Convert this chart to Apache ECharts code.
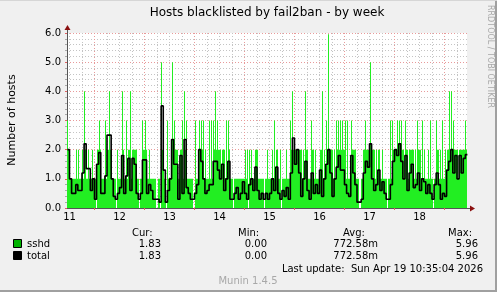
<!DOCTYPE html>
<html><head><meta charset="utf-8">
<script src="https://cdn.jsdelivr.net/npm/echarts@6/dist/echarts.min.js"></script>
<style>html,body{margin:0;padding:0;background:#f0f0f0}#c{width:497px;height:292px}</style>
</head><body><div id="c"></div>
<script>
const chartTitle = 'Hosts blacklisted by fail2ban - by week';
const yAxisName = 'Number of hosts';
const dayLabels = [11, 12, 13, 14, 15, 16, 17, 18];
const startDay = 10 + 23 / 24;   // first hourly sample (day 10, 23:00)
const stepDays = 1 / 24;          // one sample per hour

// sshd: filled level per hour (second half-hour)
const sshdBase = [
 2,1,1,1,1,1,1,1,2,1, 1,1,1,0,2,2,1,1,1,2, 2,1,1,0,1,1,2,1,1,2, 1,2,2,1,0,1,2,2,1,1,
 1,1,0,1,0,2,1,0,1,1, 2,2,2,1,2,1,2,1,1,1, 0,1,1,2,2,1,1,1,1,1, 2,2,2,1,2,1,1,2,1,0,
 1,1,1,1,1,1,0,1,1,1, 2,1,1,1,0,1,1,1,1,1, 2,1,0,1,1,1,1,2,2,2, 2,2,1,1,2,1,1,2,1,1,
 1,2,1,1,2,2,2,1,1,2, 2,2,2,1,1,1,2,2,1,1, 0,1,2,2,2,2,2,1,1,2, 1,1,1,0,1,1,2,2,2,2,
 2,1,2,1,2,2,1,1,2,1, 1,1,1,1,1,0,1,2,1,1, 1,1,2,2,2,2,2,1,2,2, 2,2
];
// sshd: peak per hour (first half-hour)
const sshdPeak = [
 3,1,1,1,2,2,1,2,4,1, 2,1,2,1,2,3,1,1,3,2, 4,2,1,1,2,1,4,1,3,2, 4,2,2,2,1,1,3,3,1,2,
 1,1,1,0,1,5,2,1,3,1, 5,3,2,1,2,3,4,3,1,1, 1,3,1,3,3,3,2,1,3,3, 3,4,3,2,2,2,3,3,1,1,
 1,1,1,1,1,2,2,2,2,1, 2,2,1,1,1,1,2,1,2,3, 2,1,2,1,1,2,1,3,4,2, 2,2,2,2,4,2,1,3,2,2,
 1,2,4,2,3,5.96,2,2,2,3, 3,3,3,3,3,1,3,2,2,1, 0,1,2,3,2,5,2,2,2,2, 1,2,1,1,1,3,3,2,3,3,
 3,2,3,2,2,2,2,2,3,2, 3,2,1,2,3,1,1,3,2,2, 3,2,2,4,4,3,2,2,2,2, 2,3
];
// total: hourly values
const total = [
 2.0,1.0,0.5,0.5,0.8,0.6,0.6,1.2,2.2,1.35, 1.35,0.6,1.0,0.3,1.5,1.9,0.5,0.5,1.1,2.5,
 2.5,1.0,0.4,0.3,0.5,0.7,1.8,0.5,1.1,1.7, 0.6,1.7,1.5,0.5,0.3,0.5,1.65,1.65,0.5,0.8,
 0.6,0.3,0.3,0.3,0.2,3.5,1.3,0.2,0.6,1.0, 2.35,1.5,1.5,0.3,1.8,0.5,2.35,0.7,0.5,0.3,
 0.3,0.5,0.8,2.0,1.6,1.0,0.5,0.6,0.8,0.8, 1.6,1.6,1.3,1.0,1.5,0.6,1.0,1.6,0.3,0.3,
 0.5,0.7,0.3,0.5,0.9,0.5,0.3,0.8,1.0,0.6, 1.4,0.6,0.3,0.5,0.3,0.5,0.3,0.5,1.0,0.6,
 1.4,0.5,0.3,0.6,0.4,0.7,0.3,1.2,2.4,1.5, 2.0,1.2,0.4,1.0,1.6,0.6,0.3,1.2,0.5,0.8,
 0.5,1.3,0.4,1.0,1.5,2.0,1.2,0.4,1.0,1.4, 1.8,1.3,1.3,0.8,0.5,0.4,1.8,1.2,0.8,0.2,
 0.2,0.3,1.2,1.6,1.4,2.2,1.0,0.6,0.8,1.3, 0.6,0.9,0.5,0.3,0.3,0.8,1.6,2.0,1.8,2.2,
 1.6,1.0,1.8,0.6,1.2,1.5,0.7,0.8,1.2,0.6, 1.0,0.9,0.5,0.8,0.5,0.3,0.8,1.2,0.8,0.3,
 0.5,0.4,1.3,1.6,2.0,1.2,1.8,1.0,1.8,1.2, 1.7,1.83
];

const legendNames = ['sshd', 'total'];
const legendColors = ['#00b400', '#000000'];
const statHeads = ['Cur:', 'Min:', 'Avg:', 'Max:'];
const curVals = ['1.83', '1.83'];
const minVals = ['0.00', '0.00'];
const avgVals = ['772.58m', '772.58m'];
const maxVals = ['5.96', '5.96'];
const lastUpdate = 'Last update:  Sun Apr 19 10:35:04 2026';
const footer = 'Munin 1.4.5';
const watermark = 'RRDTOOL / TOBI OETIKER';

const GREEN = '#22ee22';
const FONT = '"DejaVu Sans", sans-serif';

const times = total.map((_, i) => startDay + i * stepDays);
const endT = startDay + total.length * stepDays;
// green columns: [start, end, value]; peak in first half-hour, fill level in second
const greenData = [];
times.forEach((t, i) => {
  greenData.push([t, t + stepDays / 2, sshdPeak[i]]);
  greenData.push([t + stepDays / 2, t + stepDays, sshdBase[i]]);
});
const totalData = times.map((t, i) => [t, total[i]]).concat([[endT, total[total.length - 1]]]);

// vertical grid lines: every 6h, red at noon
const vLines = [];
for (let q = 44; q <= 75; q++) {
  const major = q % 4 === 2;
  vLines.push({ xAxis: q / 4, lineStyle: { color: major ? '#e89a9a' : '#c4c4c4', type: [1, 2], width: 1 } });
}
const halfDays = dayLabels.map(d => d + 0.5);

const G = [];
function txt(x, y, text, st, extra) {
  G.push(Object.assign({ type: 'text', x, y, silent: true, z: 10,
    style: Object.assign({ text, fill: '#000', font: '10px ' + FONT, textAlign: 'left', textVerticalAlign: 'middle' }, st || {}) }, extra || {}));
}
txt(267, 13, chartTitle, { font: '12px ' + FONT, textAlign: 'center' });
txt(12, 120, yAxisName, { font: '11px ' + FONT, textAlign: 'center' }, { rotation: Math.PI / 2 });
txt(490, 5, watermark, { font: '8px ' + FONT, fill: '#a8a8a8', textAlign: 'left' }, { rotation: -Math.PI / 2 });
const headX = [132, 238, 343, 448];
const valX = [161, 267, 378, 478];
statHeads.forEach((h, k) => txt(headX[k], 233, h));
legendNames.forEach((n, r) => {
  const y = 244 + r * 12;
  G.push({ type: 'rect', silent: true, z: 10, shape: { x: 13.5, y: y - 4.5, width: 8, height: 8 },
    style: { fill: legendColors[r], stroke: '#000', lineWidth: 1 } });
  txt(27, y, n);
  [curVals, minVals, avgVals, maxVals].forEach((arr, k) => txt(valX[k], y, arr[r], { textAlign: 'right' }));
});
txt(483, 269, lastUpdate, { textAlign: 'right' });
txt(248, 281, footer, { fill: '#a8a8a8', textAlign: 'center' });
// axis arrows
G.push({ type: 'line', silent: true, z: 10, shape: { x1: 67.5, y1: 33, x2: 67.5, y2: 29 }, style: { stroke: '#555', lineWidth: 1 } });
G.push({ type: 'polygon', silent: true, z: 10, shape: { points: [[67.5, 25], [64.5, 30], [70.5, 30]] }, style: { fill: '#8b1010' } });
G.push({ type: 'line', silent: true, z: 10, shape: { x1: 467, y1: 208.5, x2: 470, y2: 208.5 }, style: { stroke: '#555', lineWidth: 1 } });
G.push({ type: 'polygon', silent: true, z: 10, shape: { points: [[475, 208.5], [470, 205.5], [470, 211.5]] }, style: { fill: '#8b1010' } });
// frame
G.push({ type: 'line', silent: true, z: 10, shape: { x1: 0, y1: 291, x2: 497, y2: 291 }, style: { stroke: '#a0a0a0', lineWidth: 2 } });
G.push({ type: 'line', silent: true, z: 10, shape: { x1: 496, y1: 0, x2: 496, y2: 292 }, style: { stroke: '#a0a0a0', lineWidth: 2 } });
G.push({ type: 'line', silent: true, z: 10, shape: { x1: 0, y1: 0.5, x2: 497, y2: 0.5 }, style: { stroke: '#d6d6d6', lineWidth: 1 } });

function renderColumn(params, api) {
  const p0 = api.coord([api.value(0), api.value(2)]);
  const p1 = api.coord([api.value(1), 0]);
  const x0 = Math.round(p0[0]), x1 = Math.round(p1[0]);
  if (x1 <= x0 || p1[1] - p0[1] <= 0) return null;
  return { type: 'rect', shape: { x: x0, y: p0[1], width: x1 - x0, height: p1[1] - p0[1] },
    style: { fill: GREEN }, silent: true };
}

const chart = echarts.init(document.getElementById('c'), null, { renderer: 'canvas' });
chart.setOption({
  animation: false,
  backgroundColor: '#f0f0f0',
  grid: { left: 67, right: 30, top: 33, bottom: 84, show: true, backgroundColor: '#ffffff', borderWidth: 0 },
  xAxis: {
    type: 'value', min: 10.95, max: 18.95,
    axisLine: { show: true, lineStyle: { color: '#555', width: 1 } },
    axisTick: { show: true, customValues: halfDays, length: 2, lineStyle: { color: '#e06060' } },
    axisLabel: { customValues: dayLabels, formatter: v => String(Math.round(v)), color: '#000', fontSize: 10, fontFamily: FONT, margin: 4 },
    splitLine: { show: false }
  },
  yAxis: {
    type: 'value', min: 0, max: 6, interval: 1,
    axisLine: { show: true, lineStyle: { color: '#555', width: 1 } },
    axisTick: { show: true, length: 2, lineStyle: { color: '#e06060' } },
    minorTick: { show: true, splitNumber: 5, length: 2, lineStyle: { color: '#aaa' } },
    axisLabel: { formatter: v => v.toFixed(1), color: '#000', fontSize: 10, fontFamily: FONT, margin: 6 },
    splitLine: { show: true, lineStyle: { color: '#e89a9a', type: [1, 2] } },
    minorSplitLine: { show: true, lineStyle: { color: '#c4c4c4', type: [1, 2] } }
  },
  graphic: G,
  series: [
    {
      name: 'sshd', type: 'custom', renderItem: renderColumn, data: greenData, z: 2, clip: true,
      encode: { x: [0, 1], y: 2 },
      itemStyle: { color: GREEN },
      markLine: { silent: true, symbol: 'none', z: 1, label: { show: false }, data: vLines, animation: false }
    },
    {
      name: 'total', type: 'line', step: 'end', data: totalData, symbol: 'none', z: 3,
      lineStyle: { color: '#000', width: 1.6 }
    }
  ]
});
</script></body></html>
